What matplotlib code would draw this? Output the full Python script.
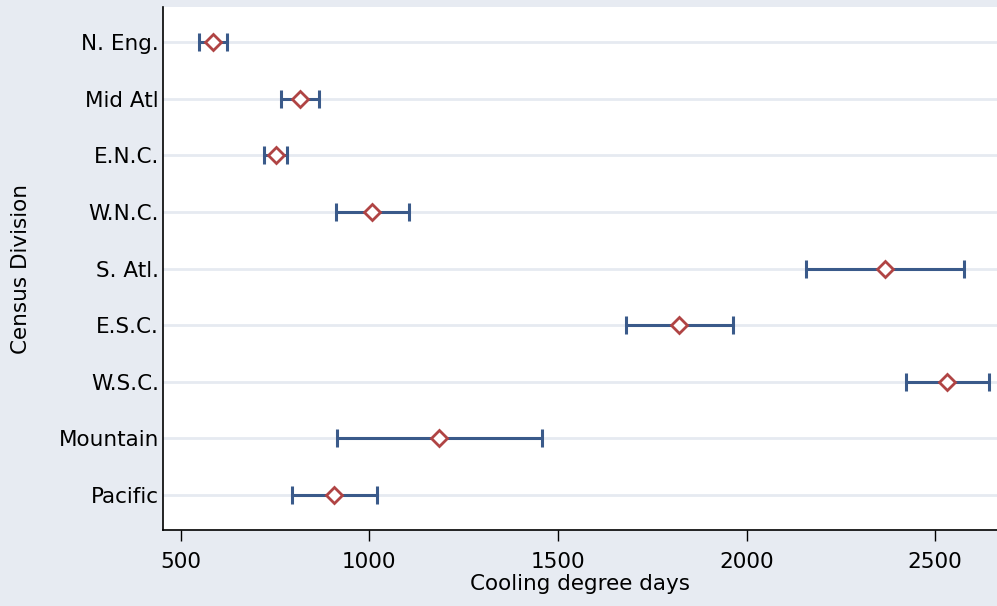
import matplotlib
matplotlib.use("Agg")
import matplotlib.pyplot as plt
import numpy as np

# Cooling degree days by census division: mean and interval bounds
divisions = ["N. Eng.", "Mid Atl", "E.N.C.", "W.N.C.", "S. Atl.",
             "E.S.C.", "W.S.C.", "Mountain", "Pacific"]
cdd_mean = [586, 816, 752, 1008, 2367, 1821, 2532, 1186, 907]
cdd_low = [549, 766, 722, 911, 2158, 1681, 2422, 914, 794]
cdd_high = [622, 867, 783, 1106, 2577, 1964, 2644, 1459, 1021]
xticks = [500, 1000, 1500, 2000, 2500]

bg = "#E7EBF2"
bar_color = "#3A5A8A"
mark_color = "#B04444"

plt.rcParams["font.family"] = "DejaVu Sans"

fig = plt.figure(figsize=(9.97, 6.06), dpi=100, facecolor=bg)
ax = fig.add_axes([0.1635, 0.1254, 1 - 0.1635, 0.9884 - 0.1254])
ax.set_facecolor("white")

ypos = np.arange(len(divisions))
mean = np.array(cdd_mean)
err = [mean - np.array(cdd_low), np.array(cdd_high) - mean]

for y in ypos:
    ax.axhline(y, color="#E6EAF1", lw=2, zorder=1)

ax.errorbar(mean, ypos, xerr=err, fmt="none", ecolor=bar_color,
            elinewidth=2.2, capsize=6.5, capthick=2.2, zorder=2)
ax.plot(mean, ypos, ls="none", marker="D", ms=8.5, mfc="white",
        mec=mark_color, mew=2, zorder=3)

ax.set_ylim(len(divisions) - 1 + 0.62, -0.62)
ax.set_xlim(453, 2664)
ax.set_yticks(ypos)
ax.set_yticklabels(divisions, fontsize=15.5)
ax.set_xticks(xticks)
ax.set_xticklabels([str(t) for t in xticks], fontsize=15.5)
ax.tick_params(axis="y", length=0, pad=3)
ax.tick_params(axis="x", length=8, width=1, direction="out", pad=8)

for side in ["top", "right"]:
    ax.spines[side].set_visible(False)
for side in ["left", "bottom"]:
    ax.spines[side].set_linewidth(1.2)

ax.set_xlabel("Cooling degree days", fontsize=15.5, labelpad=1)
ax.set_ylabel("Census Division", fontsize=15.5, labelpad=20)

fig.savefig("out.png", dpi=100, facecolor=bg)
